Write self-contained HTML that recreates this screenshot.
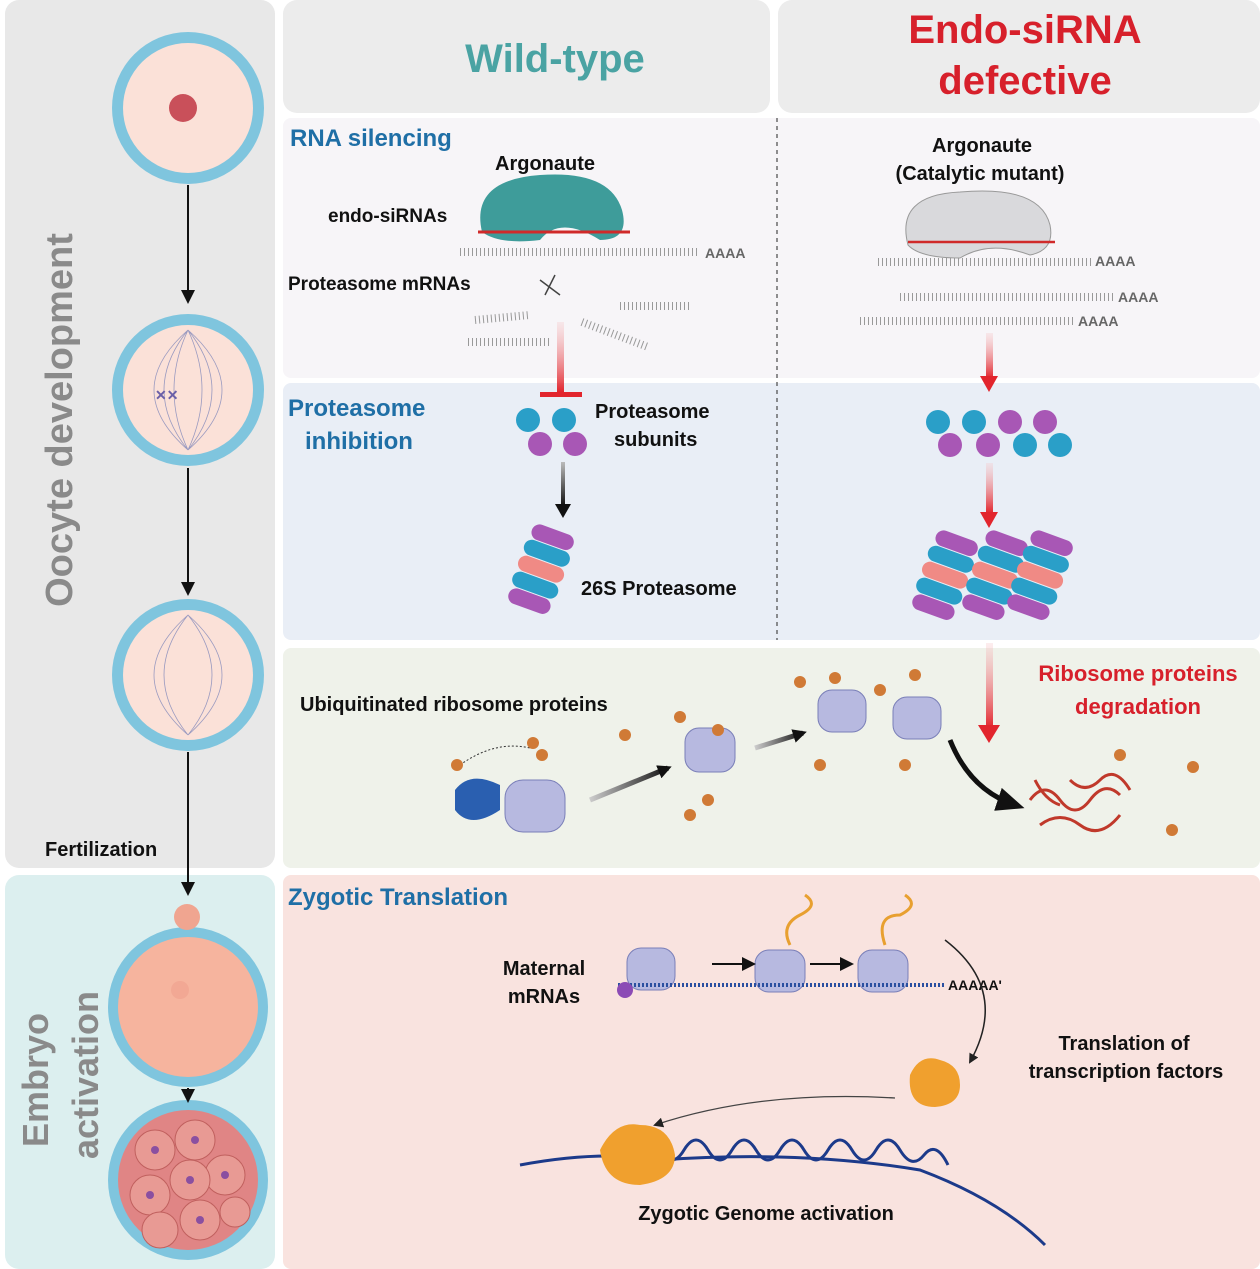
<!DOCTYPE html>
<html><head><meta charset="utf-8"><style>
html,body{margin:0;padding:0;background:#fff}
svg{display:block}
text{font-family:"Liberation Sans",sans-serif;font-weight:bold}
</style></head><body>
<svg width="1260" height="1269" viewBox="0 0 1260 1269" xmlns="http://www.w3.org/2000/svg">
<defs>
<marker id="ab" markerUnits="userSpaceOnUse" markerWidth="14" markerHeight="14" refX="10" refY="7" orient="auto"><path d="M0,0 L14,7 L0,14z" fill="#111"/></marker>
<marker id="ab2" markerUnits="userSpaceOnUse" markerWidth="28" markerHeight="28" refX="18" refY="14" orient="auto"><path d="M0,2 L28,14 L0,26z" fill="#111"/></marker>
<marker id="as" markerUnits="userSpaceOnUse" markerWidth="10" markerHeight="10" refX="8" refY="5" orient="auto"><path d="M0,0 L10,5 L0,10z" fill="#222"/></marker>
<linearGradient id="rg" x1="0" y1="0" x2="0" y2="1"><stop offset="0" stop-color="#f6c6c8" stop-opacity="0.3"/><stop offset="1" stop-color="#e2252d"/></linearGradient>
<linearGradient id="bg" x1="0" y1="0" x2="0" y2="1"><stop offset="0" stop-color="#bbb"/><stop offset="1" stop-color="#111"/></linearGradient>
<linearGradient id="bgh" x1="0" y1="0" x2="1" y2="0"><stop offset="0" stop-color="#ccc"/><stop offset="1" stop-color="#111"/></linearGradient>
</defs>
<rect x="5" y="0" width="270" height="868" rx="14" fill="#e8e8e8"/>
<rect x="5" y="875" width="270" height="394" rx="14" fill="#dcefef"/>
<text transform="translate(72,420) rotate(-90)" text-anchor="middle" font-size="38" fill="#8a8a8a">Oocyte development</text>
<text transform="translate(48,1080) rotate(-90)" text-anchor="middle" font-size="36" fill="#8a8a8a">Embryo</text>
<text transform="translate(98,1075) rotate(-90)" text-anchor="middle" font-size="36" fill="#8a8a8a">activation</text>
<text x="45" y="856" font-size="20" fill="#111">Fertilization</text>
<rect x="283" y="0" width="487" height="113" rx="14" fill="#ececec"/>
<rect x="778" y="0" width="482" height="113" rx="14" fill="#ececec"/>
<text x="555" y="72" text-anchor="middle" font-size="40" fill="#4aa3a3">Wild-type</text>
<text x="1025" y="43" text-anchor="middle" font-size="40" fill="#d7202b">Endo-siRNA</text>
<text x="1025" y="94" text-anchor="middle" font-size="40" fill="#d7202b">defective</text>
<rect x="283" y="118" width="977" height="260" rx="8" fill="#f7f5f8"/>
<rect x="283" y="383" width="977" height="257" rx="8" fill="#e9eef6"/>
<rect x="283" y="648" width="977" height="220" rx="8" fill="#eff2ea"/>
<rect x="283" y="875" width="977" height="394" rx="8" fill="#f9e3df"/>
<line x1="777" y1="118" x2="777" y2="640" stroke="#555" stroke-dasharray="4,4" stroke-width="1.3"/>
<g>
<circle cx="188" cy="108" r="76" fill="#7fc5de"/><circle cx="188" cy="108" r="65" fill="#fbe1d8"/><circle cx="183" cy="108" r="14" fill="#c9505a"/>
<circle cx="188" cy="390" r="76" fill="#7fc5de"/><circle cx="188" cy="390" r="65" fill="#fbe1d8"/>
<path d="M188,330 Q140,390 188,450 M188,330 Q236,390 188,450 M188,330 Q160,390 188,450 M188,330 Q216,390 188,450 M188,330 Q120,390 188,450 M188,330 Q256,390 188,450" stroke="#9a9ac0" fill="none" stroke-width="0.8"/>
<text x="155" y="400" font-size="14" fill="#6a5fa8">✕✕</text>
<circle cx="188" cy="675" r="76" fill="#7fc5de"/><circle cx="188" cy="675" r="65" fill="#fbe1d8"/>
<path d="M188,615 Q140,675 188,735 M188,615 Q236,675 188,735 M188,615 Q120,675 188,735 M188,615 Q256,675 188,735" stroke="#9a9ac0" fill="none" stroke-width="0.8"/>
<circle cx="188" cy="1007" r="80" fill="#7fc5de"/><circle cx="188" cy="1007" r="70" fill="#f6b49e"/><circle cx="187" cy="917" r="13" fill="#f0a590"/><circle cx="180" cy="990" r="9" fill="#f2a894"/>
<circle cx="188" cy="1180" r="80" fill="#7fc5de"/><circle cx="188" cy="1180" r="70" fill="#e08585"/>
<g fill="#e89a94" stroke="#c0605e">
<circle cx="155" cy="1150" r="20"/><circle cx="195" cy="1140" r="20"/><circle cx="225" cy="1175" r="20"/><circle cx="150" cy="1195" r="20"/><circle cx="190" cy="1180" r="20"/><circle cx="200" cy="1220" r="20"/><circle cx="160" cy="1230" r="18"/><circle cx="235" cy="1212" r="15"/>
</g>
<g fill="#8a4fa0"><circle cx="155" cy="1150" r="4"/><circle cx="195" cy="1140" r="4"/><circle cx="225" cy="1175" r="4"/><circle cx="150" cy="1195" r="4"/><circle cx="190" cy="1180" r="4"/><circle cx="200" cy="1220" r="4"/></g>
</g>
<g stroke="#111" stroke-width="2" marker-end="url(#ab)">
<line x1="188" y1="185" x2="188" y2="300"/><line x1="188" y1="468" x2="188" y2="592"/><line x1="188" y1="752" x2="188" y2="892"/><line x1="188" y1="1088" x2="188" y2="1099"/>
</g>
<text x="290" y="146" font-size="24" fill="#1f6fa6">RNA silencing</text>
<text x="495" y="170" font-size="20" fill="#111">Argonaute</text>
<text x="328" y="222" font-size="19" fill="#111">endo-siRNAs</text>
<text x="288" y="290" font-size="19" fill="#111">Proteasome mRNAs</text>
<path d="M482,232 Q470,180 540,175 Q610,170 622,210 Q630,240 600,240 Q560,215 540,240 Q500,245 482,232z" fill="#3e9c9a"/>
<line x1="478" y1="232" x2="630" y2="232" stroke="#d02a2a" stroke-width="3"/>
<g stroke="#999" stroke-width="8" stroke-dasharray="1,3" fill="none">
<line x1="460" y1="252" x2="700" y2="252"/><line x1="475" y1="320" x2="530" y2="315"/><line x1="468" y1="342" x2="550" y2="342"/><line x1="620" y1="306" x2="690" y2="306"/><line x1="582" y1="322" x2="648" y2="347"/>
</g>
<path d="M540,280 l20,15 M555,275 l-10,20" stroke="#444" stroke-width="1.5"/>
<text x="705" y="258" font-size="14" fill="#666">AAAA</text>
<text x="982" y="152" text-anchor="middle" font-size="20" fill="#111">Argonaute</text>
<text x="980" y="180" text-anchor="middle" font-size="20" fill="#111">(Catalytic mutant)</text>
<path d="M908,245 Q895,195 960,192 Q1040,185 1050,225 Q1055,250 1030,255 Q990,240 960,258 Q920,258 908,245z" fill="#d9d9dc" stroke="#999"/>
<line x1="908" y1="242" x2="1055" y2="242" stroke="#d02a2a" stroke-width="2.5"/>
<g stroke="#999" stroke-width="8" stroke-dasharray="1,3"><line x1="878" y1="262" x2="1092" y2="262"/><line x1="900" y1="297" x2="1115" y2="297"/><line x1="860" y1="321" x2="1075" y2="321"/></g>
<g font-size="14" fill="#666"><text x="1095" y="266">AAAA</text><text x="1118" y="302">AAAA</text><text x="1078" y="326">AAAA</text></g>
<rect x="557" y="322" width="7" height="70" fill="url(#rg)"/><rect x="540" y="392" width="42" height="5" fill="#e2252d"/>
<rect x="986" y="333" width="7" height="45" fill="url(#rg)"/><path d="M980,376 L998,376 L989,392z" fill="#e2252d"/>
<rect x="986" y="463" width="7" height="50" fill="url(#rg)"/><path d="M980,512 L998,512 L989,528z" fill="#e2252d"/>
<rect x="986" y="643" width="7" height="85" fill="url(#rg)"/><path d="M978,725 L1000,725 L989,743z" fill="#e2252d"/>
<text x="288" y="416" font-size="24" fill="#1f6fa6">Proteasome</text>
<text x="305" y="449" font-size="24" fill="#1f6fa6">inhibition</text>
<text x="595" y="418" font-size="20" fill="#111">Proteasome</text>
<text x="614" y="446" font-size="20" fill="#111">subunits</text>
<g><circle cx="528" cy="420" r="12" fill="#2a9fc8"/><circle cx="564" cy="420" r="12" fill="#2a9fc8"/><circle cx="540" cy="444" r="12" fill="#a857b5"/><circle cx="575" cy="444" r="12" fill="#a857b5"/></g>
<rect x="561" y="462" width="4" height="44" fill="url(#bg)"/><path d="M555,504 L571,504 L563,518z" fill="#111"/>
<g transform="translate(540,572) rotate(20)">
<rect x="-22" y="-45" width="44" height="16" rx="8" fill="#a857b5"/><rect x="-24" y="-28" width="48" height="16" rx="8" fill="#2a9fc8"/><rect x="-24" y="-11" width="48" height="16" rx="8" fill="#f08a85"/><rect x="-24" y="6" width="48" height="16" rx="8" fill="#2a9fc8"/><rect x="-22" y="23" width="44" height="16" rx="8" fill="#a857b5"/>
</g>
<text x="581" y="595" font-size="20" fill="#111">26S Proteasome</text>
<g fill="#2a9fc8"><circle cx="938" cy="422" r="12"/><circle cx="974" cy="422" r="12"/><circle cx="1025" cy="445" r="12"/><circle cx="1060" cy="445" r="12"/></g>
<g fill="#a857b5"><circle cx="1010" cy="422" r="12"/><circle cx="1045" cy="422" r="12"/><circle cx="950" cy="445" r="12"/><circle cx="988" cy="445" r="12"/></g>
<g id="pp">
<g transform="translate(944,578) rotate(20)">
<rect x="-22" y="-45" width="44" height="16" rx="8" fill="#a857b5"/><rect x="-24" y="-28" width="48" height="16" rx="8" fill="#2a9fc8"/><rect x="-24" y="-11" width="48" height="16" rx="8" fill="#f08a85"/><rect x="-24" y="6" width="48" height="16" rx="8" fill="#2a9fc8"/><rect x="-22" y="23" width="44" height="16" rx="8" fill="#a857b5"/>
</g></g>
<use href="#pp" x="50"/><use href="#pp" x="95"/>
<text x="300" y="711" font-size="20" fill="#111">Ubiquitinated ribosome proteins</text>
<text x="1138" y="681" text-anchor="middle" font-size="22" fill="#d7202b">Ribosome proteins</text>
<text x="1138" y="714" text-anchor="middle" font-size="22" fill="#d7202b">degradation</text>
<g fill="#b7b9e0" stroke="#7a7fb8">
<rect x="505" y="780" width="60" height="52" rx="18"/><rect x="685" y="728" width="50" height="44" rx="14"/><rect x="818" y="690" width="48" height="42" rx="14"/><rect x="893" y="697" width="48" height="42" rx="14"/>
<rect x="627" y="948" width="48" height="42" rx="14"/><rect x="755" y="950" width="50" height="42" rx="14"/><rect x="858" y="950" width="50" height="42" rx="14"/>
</g>
<path d="M455,790 Q470,770 500,785 L500,810 Q470,830 455,810z" fill="#2a5fb0"/>
<path d="M460,765 Q495,740 530,748" stroke="#333" stroke-dasharray="2,2" fill="none"/>
<g fill="#d07a36"><circle cx="457" cy="765" r="6"/><circle cx="533" cy="743" r="6"/><circle cx="542" cy="755" r="6"/><circle cx="625" cy="735" r="6"/><circle cx="680" cy="717" r="6"/><circle cx="718" cy="730" r="6"/><circle cx="690" cy="815" r="6"/><circle cx="708" cy="800" r="6"/><circle cx="800" cy="682" r="6"/><circle cx="835" cy="678" r="6"/><circle cx="820" cy="765" r="6"/><circle cx="880" cy="690" r="6"/><circle cx="915" cy="675" r="6"/><circle cx="905" cy="765" r="6"/><circle cx="1120" cy="755" r="6"/><circle cx="1193" cy="767" r="6"/><circle cx="1172" cy="830" r="6"/></g>
<line x1="590" y1="800" x2="668" y2="768" stroke="url(#bgh)" stroke-width="5" marker-end="url(#ab)"/>
<line x1="755" y1="748" x2="803" y2="733" stroke="url(#bgh)" stroke-width="5" marker-end="url(#ab)"/>
<path d="M950,740 Q970,790 1015,805" stroke="#111" stroke-width="5" fill="none" marker-end="url(#ab2)"/>
<path d="M1030,800 q15,-20 30,0 t30,0 t30,-5 M1040,825 q20,-15 40,0 t40,-10 M1070,780 q15,15 30,0 t30,10 M1035,780 q10,20 25,25" stroke="#c0392b" stroke-width="3" fill="none"/>
<text x="288" y="905" font-size="24" fill="#1f6fa6">Zygotic Translation</text>
<text x="544" y="975" text-anchor="middle" font-size="20" fill="#111">Maternal</text>
<text x="544" y="1003" text-anchor="middle" font-size="20" fill="#111">mRNAs</text>
<line x1="618" y1="985" x2="945" y2="985" stroke="#2a4fa0" stroke-width="4" stroke-dasharray="2,2"/>
<circle cx="625" cy="990" r="8" fill="#8c4bb5"/>
<text x="948" y="990" font-size="14" fill="#111">AAAAA'</text>
<line x1="712" y1="964" x2="752" y2="964" stroke="#111" stroke-width="2" marker-end="url(#ab)"/>
<line x1="810" y1="964" x2="850" y2="964" stroke="#111" stroke-width="2" marker-end="url(#ab)"/>
<path d="M790,945 q-10,-20 10,-30 q20,-10 5,-20 M885,945 q-10,-30 15,-30 q20,-10 5,-20" stroke="#e8a030" stroke-width="3" fill="none"/>
<path d="M945,940 Q1010,990 970,1062" stroke="#222" stroke-width="1.5" fill="none" marker-end="url(#as)"/>
<text x="1124" y="1050" text-anchor="middle" font-size="20" fill="#111">Translation of</text>
<text x="1126" y="1078" text-anchor="middle" font-size="20" fill="#111">transcription factors</text>
<path d="M910,1075 q10,-22 30,-15 q20,5 20,25 q0,20 -25,22 q-28,0 -25,-32z" fill="#f0a02e"/>
<path d="M895,1098 Q760,1090 655,1125" stroke="#444" stroke-width="1.3" fill="none" marker-end="url(#as)"/>
<path d="M520,1165 Q600,1150 660,1160 Q800,1150 920,1170 Q1000,1200 1045,1245" stroke="#1c3a8a" stroke-width="3" fill="none"/>
<path d="M660,1150 q12,20 24,0 t24,0 t24,0 t24,0 t24,0 t24,0 t24,0 t24,0 t24,0 t24,0 t24,5 t24,10" stroke="#1c3a8a" stroke-width="3" fill="none"/>
<path d="M600,1150 q15,-30 40,-25 q30,0 35,30 q0,25 -35,30 q-35,0 -40,-35z" fill="#f0a02e"/>
<text x="766" y="1220" text-anchor="middle" font-size="20" fill="#111">Zygotic Genome activation</text>
</svg>
</body></html>
